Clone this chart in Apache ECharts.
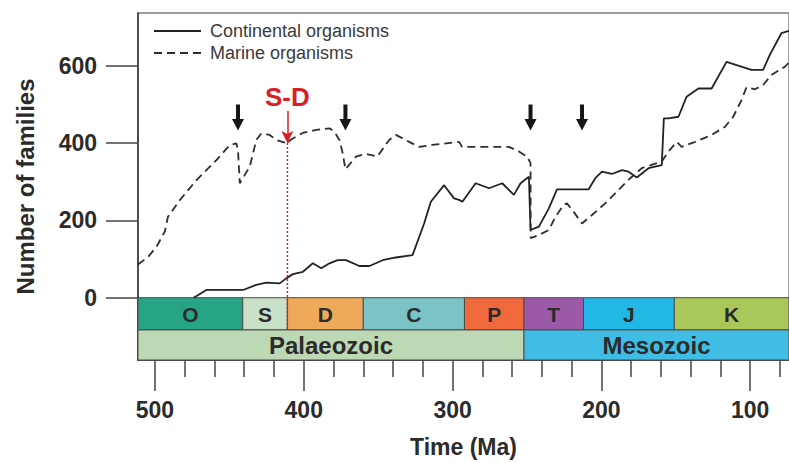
<!DOCTYPE html>
<html>
<head>
<meta charset="utf-8">
<script src="https://cdn.jsdelivr.net/npm/echarts@6/dist/echarts.min.js"></script>
<style>
  html, body { margin: 0; padding: 0; background: #ffffff; }
  #chart { width: 789px; height: 463px; }
</style>
</head>
<body>
<div id="chart"></div>
<script>
// Family counts through the Phanerozoic (age in Ma, number of families)
const continentalAge = [474, 465.4, 440.8, 431.9, 425.2, 416.2, 411.8, 407.3, 400.6, 393.9, 388.3, 382.7, 377.2, 371.6, 362.6, 355.9, 347.0, 338.1, 326.9, 319.1, 314.6, 305.7, 299.0, 295.6, 293.4, 284.5, 275.5, 266.6, 258.8, 254.3, 248.7, 247.6, 242.0, 235.3, 229.8, 224.1, 208.6, 204.1, 199.6, 192.9, 186.2, 181.7, 176.2, 168.3, 159.4, 158.0, 154.9, 148.2, 142.7, 134.8, 125.9, 115.9, 99.1, 91.3, 86.8, 79.0, 73.9];
const continentalFamilies = [0, 20, 20, 33, 39, 37, 50, 61, 67, 89, 76, 89, 97, 97, 82, 82, 97, 104, 110, 192, 248, 291, 257, 253, 248, 296, 283, 296, 266, 296, 313, 175, 184, 231, 280, 280, 280, 309, 326, 320, 330, 326, 311, 335, 343, 464, 464, 468, 520, 541, 541, 610, 589, 589, 628, 684, 690];

const marineAge = [511.4, 504.5, 498.9, 493.3, 491.3, 483.2, 472.1, 458.7, 449.7, 445.3, 444.2, 443.0, 436.3, 431.9, 428.5, 422.9, 418.5, 411.0, 409.0, 400.8, 391.7, 382.7, 379.4, 376.0, 373.8, 372.0, 364.9, 358.2, 350.6, 342.6, 338.1, 329.1, 322.4, 313.7, 295.6, 293.6, 284.5, 262.1, 255.4, 249.9, 247.6, 247.5, 242.0, 235.3, 230.9, 225.3, 223.1, 218.6, 213.0, 206.3, 197.4, 188.4, 180.6, 172.8, 159.4, 154.9, 149.4, 146.0, 137.0, 125.9, 116.9, 111.4, 105.8, 102.5, 96.8, 91.3, 85.7, 76.8, 73.9];
const marineFamilies = [86, 106, 132, 172, 209, 253, 304, 356, 395, 399, 382, 296, 339, 408, 425, 421, 408, 399, 408, 426, 434, 438, 429, 408, 373, 332, 365, 372, 365, 408, 421, 403, 390, 395, 403, 390, 390, 390, 378, 365, 348, 154, 162, 175, 209, 240, 244, 222, 192, 214, 244, 279, 309, 335, 352, 378, 403, 390, 403, 421, 442, 468, 511, 544, 539, 550, 576, 597, 608];

// Geological time scale bands (boundaries in Ma)
const periodNames = ['O', 'S', 'D', 'C', 'P', 'T', 'J', 'K'];
const periodBounds = [520, 441, 411, 360, 292, 252, 212, 151, 66];
const periodColors = ['#27a483', '#c8e1c8', '#efa95a', '#7bc3c4', '#ef693d', '#9b5aa8', '#22b8e5', '#a9c859'];
const eraNames = ['Palaeozoic', 'Mesozoic'];
const eraBounds = [520, 252, 66];
const eraColors = ['#bdd8b4', '#3fbde4'];

// Mass-extinction markers and the Silurian–Devonian boundary
const extinctionAges = [444.2, 372.0, 247.6, 213.0];
const sdBoundaryAge = 411;

// Axis ticks
const timeTicks = [500, 400, 300, 200, 100];
const minorTimeTicks = [480, 460, 440, 420, 380, 360, 340, 320, 280, 260, 240, 220, 180, 160, 140, 120, 80];
const familyTicks = [0, 200, 400, 600];

const FONT = "'Liberation Sans', Arial, Helvetica, sans-serif";
const TEXT_DARK = '#2b2b2b';
const AXIS_DARK = '#333333';
const SD_RED = '#d61f26';

// Vertical layout of the time-scale strip, in axis units below zero
const PERIOD_TOP = 0, PERIOD_BOTTOM = -83.4, ERA_BOTTOM = -161.1;
const ARROW_LEVEL = 466, SD_LABEL_LEVEL = 519, SD_ARROW_TOP = 483, SD_ARROW_TIP = 400;

function zip(xs, ys) { return xs.map((x, i) => [x, ys[i]]); }

function bandRenderer(names, colors, top, bottom, fontSize) {
  return function (params, api) {
    const i = api.value(2);
    const p0 = api.coord([api.value(0), top]);
    const p1 = api.coord([api.value(1), bottom]);
    const cs = params.coordSys;
    const x0 = Math.max(Math.min(p0[0], p1[0]), cs.x);
    const x1 = Math.min(Math.max(p0[0], p1[0]), cs.x + cs.width);
    const y0 = Math.min(p0[1], p1[1]);
    const y1 = Math.max(p0[1], p1[1]);
    return {
      type: 'group',
      children: [
        { type: 'rect', shape: { x: x0, y: y0, width: x1 - x0, height: y1 - y0 },
          style: { fill: colors[i], stroke: '#4a4a4a', lineWidth: 1 } },
        { type: 'text', x: (x0 + x1) / 2, y: (y0 + y1) / 2 + 1,
          style: { text: names[i], align: 'center', verticalAlign: 'middle',
                   fontSize: fontSize, fontWeight: 'bold', fontFamily: FONT, fill: TEXT_DARK } }
      ]
    };
  };
}

const periodData = periodNames.map((n, i) => [periodBounds[i], periodBounds[i + 1], i]);
const eraData = eraNames.map((n, i) => [eraBounds[i], eraBounds[i + 1], i]);

const arrowPath = 'path://M4,0 L8,0 L8,15 L12,15 L6,27 L0,15 L4,15 Z';

const chart = echarts.init(document.getElementById('chart'), null, { renderer: 'svg' });

const xCommon = {
  type: 'value', inverse: true, min: 73.9, max: 511.4,
  position: 'bottom', splitLine: { show: false }
};

chart.setOption({
  animation: false,
  backgroundColor: '#ffffff',
  textStyle: { fontFamily: FONT },
  grid: [
    { left: 138, top: 13, right: -2, bottom: 103, show: true,
      borderColor: '#7d7d7d', borderWidth: 1.5, backgroundColor: 'transparent' },
    // overlay grid carrying the major time ticks
    { left: 138, top: 13, right: -2, bottom: 103, show: false }
  ],
  legend: {
    left: 148, top: 17, orient: 'vertical',
    itemWidth: 47, itemHeight: 18, itemGap: 4,
    itemStyle: { opacity: 0 },
    data: ['Continental organisms', 'Marine organisms'],
    textStyle: { fontSize: 18, color: '#3a3a3a', fontFamily: FONT, padding: [0, 0, 0, 4] }
  },
  xAxis: [
    Object.assign({}, xCommon, {
      gridIndex: 0,
      axisLine: { show: true, onZero: false, lineStyle: { color: AXIS_DARK, width: 1.5 } },
      axisTick: { show: true, length: 17, customValues: minorTimeTicks, lineStyle: { color: '#444', width: 1.5 } },
      axisLabel: { show: false }
    }),
    Object.assign({}, xCommon, {
      gridIndex: 1,
      name: 'Time (Ma)', nameLocation: 'middle', nameGap: 76,
      nameTextStyle: { fontSize: 23, fontWeight: 'bold', color: TEXT_DARK, fontFamily: FONT },
      axisLine: { show: false, onZero: false },
      axisTick: { show: true, length: 32, customValues: timeTicks, lineStyle: { color: '#444', width: 1.5 } },
      axisLabel: { show: true, customValues: timeTicks, margin: 39, fontSize: 23, fontWeight: 'bold', color: TEXT_DARK, fontFamily: FONT }
    })
  ],
  yAxis: [
    {
      gridIndex: 0,
      type: 'value', min: ERA_BOTTOM, max: 736.3,
      name: 'Number of families', nameLocation: 'middle', nameGap: 101,
      nameTextStyle: { fontSize: 24, fontWeight: 'bold', color: TEXT_DARK, fontFamily: FONT },
      splitLine: { show: false },
      axisLine: { show: true, onZero: false, lineStyle: { color: AXIS_DARK, width: 1.5 } },
      axisTick: { show: true, length: 32, customValues: familyTicks, lineStyle: { color: '#444', width: 1.5 } },
      axisLabel: { show: true, customValues: familyTicks, margin: 41, fontSize: 23, fontWeight: 'bold', color: TEXT_DARK, fontFamily: FONT }
    },
    {
      gridIndex: 1, type: 'value', min: ERA_BOTTOM, max: 736.3, show: false
    }
  ],
  series: [
    {
      name: 'periods', type: 'custom', xAxisIndex: 0, yAxisIndex: 0, z: 1, silent: true,
      encode: { x: [0, 1] },
      renderItem: bandRenderer(periodNames, periodColors, PERIOD_TOP, PERIOD_BOTTOM, 21),
      data: periodData
    },
    {
      name: 'eras', type: 'custom', xAxisIndex: 0, yAxisIndex: 0, z: 1, silent: true,
      encode: { x: [0, 1] },
      renderItem: bandRenderer(eraNames, eraColors, PERIOD_BOTTOM, ERA_BOTTOM, 24),
      data: eraData
    },
    {
      name: 'Continental organisms', type: 'line', xAxisIndex: 0, yAxisIndex: 0, z: 3, symbol: 'none',
      lineStyle: { color: '#222222', width: 1.8, type: 'solid' },
      itemStyle: { color: '#222222' },
      data: zip(continentalAge, continentalFamilies)
    },
    {
      name: 'Marine organisms', type: 'line', xAxisIndex: 0, yAxisIndex: 0, z: 3, symbol: 'none',
      lineStyle: { color: '#2e2e2e', width: 1.8, type: [8, 5] },
      itemStyle: { color: '#2e2e2e' },
      data: zip(marineAge, marineFamilies)
    },
    {
      name: 'S-D boundary', type: 'line', xAxisIndex: 0, yAxisIndex: 0, z: 4, symbol: 'none', silent: true,
      lineStyle: { color: SD_RED, width: 1.5, type: [2, 2] },
      data: [[sdBoundaryAge, SD_ARROW_TIP], [sdBoundaryAge, PERIOD_BOTTOM]],
      markLine: {
        silent: true, symbol: ['none', 'arrow'], symbolSize: [9, 12],
        lineStyle: { color: SD_RED, type: 'solid', width: 1.5, opacity: 1 },
        label: { show: false },
        data: [[{ coord: [sdBoundaryAge, SD_ARROW_TOP] }, { coord: [sdBoundaryAge, SD_ARROW_TIP] }]]
      }
    },
    {
      name: 'S-D label', type: 'scatter', xAxisIndex: 0, yAxisIndex: 0, z: 5, silent: true, symbolSize: 1,
      itemStyle: { color: 'rgba(0,0,0,0)', opacity: 1 },
      label: { show: true, position: 'inside', formatter: 'S-D', fontSize: 26, fontWeight: 'bold', color: SD_RED, opacity: 1, fontFamily: FONT },
      data: [[sdBoundaryAge, SD_LABEL_LEVEL]]
    },
    {
      name: 'extinctions', type: 'scatter', xAxisIndex: 0, yAxisIndex: 0, z: 5, silent: true,
      symbol: arrowPath, symbolSize: [12, 26], symbolKeepAspect: false,
      itemStyle: { color: '#161616', opacity: 1 },
      data: extinctionAges.map(a => [a, ARROW_LEVEL])
    }
  ]
});
</script>
</body>
</html>
